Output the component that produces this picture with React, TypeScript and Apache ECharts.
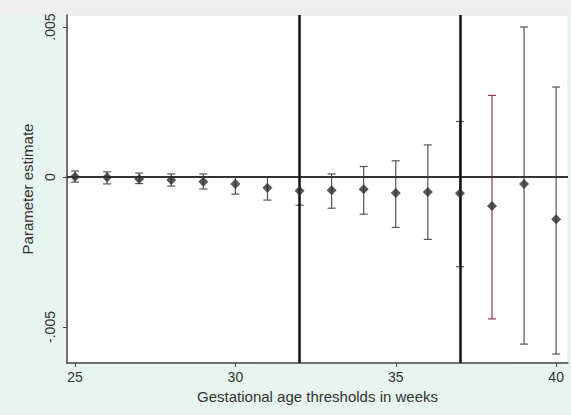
import React, { useEffect, useRef } from "react";
import * as echarts from "echarts";

const weeks = [25, 26, 27, 28, 29, 30, 31, 32, 33, 34, 35, 36, 37, 38, 39, 40];
const estimates = [0.00001, -0.00001, -0.00007, -0.0001, -0.00016, -0.00023, -0.00036, -0.00046, -0.00044, -0.00041, -0.00053, -0.0005, -0.00054, -0.00097, -0.00023, -0.00141];
const upper = [0.0002, 0.00017, 0.00013, 0.0001, 0.0001, 0.0, 0.0, 0.0, 0.0001, 0.00035, 0.00054, 0.00107, 0.00185, 0.00272, 0.005, 0.003];
const lower = [-0.00017, -0.00023, -0.00022, -0.0003, -0.0004, -0.00057, -0.00077, -0.00094, -0.00104, -0.00124, -0.00168, -0.00208, -0.00299, -0.00473, -0.00557, -0.0059];
const cutoffs = [32, 37];
const yTicks = [-0.005, 0, 0.005];
const xTicks = [25, 30, 35, 40];
const highlightedWeek = 38;

const fmtY = (v: number) => {
  if (v === 0) return "0";
  const s = String(Math.round(v * 1000) / 1000);
  return s.replace("0.", ".");
};

export default function App() {
  const ref = useRef<HTMLDivElement>(null);
  useEffect(() => {
    document.body.style.margin = "0";
    const chart = echarts.init(ref.current!, undefined, { renderer: "svg" });
    const font = "'Liberation Sans', Arial, sans-serif";
    const errData = weeks.map((w, i) => [w, lower[i], upper[i]]);
    chart.setOption({
      animation: false,
      backgroundColor: "#e7f4ef",
      textStyle: { fontFamily: font },
      graphic: [
        { type: "rect", left: 0, top: 0, shape: { width: 571, height: 15 }, style: { fill: "#efefef" }, z: -1 },
      ],
      grid: {
        left: 67,
        right: 3,
        top: 15,
        bottom: 52,
        show: true,
        backgroundColor: "#ffffff",
        borderColor: "#e4e4e4",
        borderWidth: 1,
      },
      xAxis: {
        type: "value",
        min: 24.75,
        max: 40.37,
        name: "Gestational age thresholds in weeks",
        nameLocation: "middle",
        nameGap: 22,
        nameTextStyle: { fontSize: 15, color: "#333", fontFamily: font },
        splitLine: { show: false },
        axisLine: { show: true, onZero: false, lineStyle: { color: "#444", width: 1.5 } },
        axisTick: { show: true, length: 4, customValues: xTicks, lineStyle: { color: "#444" } },
        axisLabel: {
          customValues: xTicks,
          fontSize: 14,
          color: "#333",
          margin: 7,
          formatter: (v: number) => String(v),
        },
      },
      yAxis: {
        type: "value",
        min: -0.0062,
        max: 0.0054,
        name: "Parameter estimate",
        nameLocation: "middle",
        nameGap: 24,
        nameTextStyle: { fontSize: 15, color: "#333", fontFamily: font },
        splitLine: { show: false },
        axisLine: { show: true, onZero: false, lineStyle: { color: "#444", width: 1.5 } },
        axisTick: { show: true, length: 4, customValues: yTicks, lineStyle: { color: "#444" } },
        axisLabel: {
          customValues: yTicks,
          rotate: 90,
          fontSize: 14,
          color: "#333",
          margin: 10,
          formatter: (v: number) => fmtY(v),
        },
      },
      series: [
        {
          type: "line",
          data: [],
          markLine: {
            silent: true,
            symbol: "none",
            label: { show: false },
            lineStyle: { color: "#333", width: 2, type: "solid" },
            data: [{ yAxis: 0 }],
          },
        },
        {
          type: "line",
          data: [],
          markLine: {
            silent: true,
            symbol: "none",
            label: { show: false },
            lineStyle: { color: "#111", width: 2.5, type: "solid" },
            data: cutoffs.map((c) => ({ xAxis: c })),
          },
          z: 5,
        },
        {
          type: "custom",
          data: errData,
          z: 3,
          renderItem: (params: any, api: any) => {
            const x = api.value(0);
            const top = api.coord([x, api.value(2)]);
            const bot = api.coord([x, api.value(1)]);
            const color = x === highlightedWeek ? "#8a3a4c" : "#555";
            const cap = 4;
            const style = { stroke: color, lineWidth: 1.2 };
            return {
              type: "group",
              children: [
                { type: "line", shape: { x1: top[0], y1: top[1], x2: bot[0], y2: bot[1] }, style },
                { type: "line", shape: { x1: top[0] - cap, y1: top[1], x2: top[0] + cap, y2: top[1] }, style },
                { type: "line", shape: { x1: bot[0] - cap, y1: bot[1], x2: bot[0] + cap, y2: bot[1] }, style },
              ],
            };
          },
        },
        {
          type: "scatter",
          data: weeks.map((w, i) => [w, estimates[i]]),
          symbol: "diamond",
          symbolSize: 10,
          itemStyle: { color: "#2e2e2e" },
          z: 6,
        },
      ],
    });
    return () => chart.dispose();
  }, []);
  return <div ref={ref} style={{ width: 571, height: 415 }} />;
}
